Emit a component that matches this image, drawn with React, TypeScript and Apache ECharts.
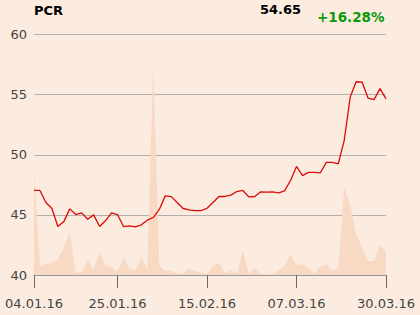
import React, { useEffect, useRef } from "react";
import * as echarts from "echarts";

const dates = [
  "04.01.16", "05.01.16", "07.01.16", "08.01.16", "11.01.16", "12.01.16", "13.01.16", "14.01.16", "15.01.16",
  "18.01.16", "19.01.16", "20.01.16", "21.01.16", "22.01.16", "25.01.16", "26.01.16", "27.01.16", "28.01.16", "29.01.16",
  "01.02.16", "02.02.16", "03.02.16", "04.02.16", "05.02.16", "08.02.16", "09.02.16", "10.02.16", "11.02.16", "12.02.16",
  "15.02.16", "16.02.16", "17.02.16", "18.02.16", "19.02.16", "22.02.16", "23.02.16", "24.02.16", "25.02.16", "26.02.16",
  "29.02.16", "01.03.16", "02.03.16", "03.03.16", "04.03.16", "07.03.16", "08.03.16", "09.03.16", "10.03.16", "11.03.16",
  "14.03.16", "15.03.16", "16.03.16", "17.03.16", "18.03.16", "21.03.16", "22.03.16", "23.03.16", "24.03.16", "29.03.16",
  "30.03.16",
];

const tickLabels = ["04.01.16", "25.01.16", "15.02.16", "07.03.16", "30.03.16"];

const prices = [
  47.03, 47.03, 46.03, 45.53, 44.03, 44.44, 45.5, 45.03, 45.17, 44.64,
  45.0, 44.03, 44.53, 45.17, 45.03, 44.03, 44.08, 44.0, 44.17, 44.56,
  44.78, 45.45, 46.58, 46.52, 46.03, 45.53, 45.42, 45.36, 45.36, 45.55,
  46.03, 46.53, 46.53, 46.64, 46.94, 47.03, 46.5, 46.53, 46.92, 46.9,
  46.92, 46.83, 47.0, 47.86, 49.03, 48.27, 48.53, 48.53, 48.5, 49.36,
  49.36, 49.25, 51.2, 54.8, 56.07, 56.03, 54.7, 54.58, 55.5, 54.65,
];

const volumes = [
  42.4, 4.0, 4.6, 5.1, 6.8, 11.1, 18.0, 1.0, 1.1, 6.2,
  2.1, 9.7, 3.9, 3.4, 1.4, 7.3, 2.8, 1.8, 7.3, 2.8,
  87.8, 4.1, 1.7, 1.7, 0.4, 0.7, 2.8, 1.7, 1.0, 0.3,
  3.9, 5.1, 0.7, 2.1, 0.7, 10.1, 0.4, 2.8, 0.4, 0.3,
  0.4, 2.1, 3.7, 8.7, 4.1, 4.6, 3.2, 0.4, 3.5, 4.3,
  1.7, 2.8, 36.4, 29.0, 17.0, 11.3, 5.8, 5.8, 12.6, 9.5,
];

const title = "PCR";
const lastValue = "54.65";
const change = "+16.28%";

const FONT = "DejaVu Sans";

export default function App() {
  const ref = useRef<HTMLDivElement>(null);

  useEffect(() => {
    if (!ref.current) return;
    const chart = echarts.init(ref.current, undefined, { renderer: "svg" });
    const showIdx = (i: number) => tickLabels.includes(dates[i]);
    chart.setOption({
      animation: false,
      backgroundColor: "#fbecdf",
      textStyle: { fontFamily: FONT },
      grid: { left: 34, right: 34, top: 34.5, bottom: 40, containLabel: false },
      graphic: [
        {
          type: "text",
          x: 34,
          y: 10.5,
          style: { text: title, font: `bold 13px '${FONT}'`, fill: "#000", textVerticalAlign: "middle", textAlign: "left" },
        },
        {
          type: "text",
          x: 301,
          y: 9.5,
          style: { text: lastValue, font: `bold 13px '${FONT}'`, fill: "#000", textVerticalAlign: "middle", textAlign: "right" },
        },
        {
          type: "text",
          x: 384.5,
          y: 16.5,
          style: { text: change, font: `bold 13.5px '${FONT}'`, fill: "#0b9a0b", textVerticalAlign: "middle", textAlign: "right" },
        },
      ],
      xAxis: [
        {
          type: "category",
          data: dates,
          boundaryGap: false,
          axisLine: { show: true, onZero: false, lineStyle: { color: "#999", width: 1 } },
          axisTick: {
            show: true,
            length: 13,
            interval: (i: number) => showIdx(i),
            lineStyle: { color: "#6b6b6b", width: 1 },
          },
          axisLabel: {
            interval: (i: number) => showIdx(i),
            color: "#444",
            fontSize: 13,
            fontFamily: FONT,
            margin: 22,
          },
          splitLine: { show: false },
        },
      ],
      yAxis: [
        {
          type: "value",
          min: 40,
          max: 60,
          interval: 5,
          axisLine: { show: false },
          axisTick: { show: false },
          axisLabel: { color: "#444", fontSize: 13, fontFamily: FONT, margin: 7 },
          splitLine: { show: true, lineStyle: { color: "#b3b0ad", width: 1 } },
        },
        {
          type: "value",
          min: 0,
          max: 100,
          show: false,
          splitLine: { show: false },
        },
      ],
      series: [
        {
          type: "line",
          yAxisIndex: 1,
          data: volumes,
          symbol: "none",
          lineStyle: { width: 0 },
          areaStyle: { color: "#f7d9c4", opacity: 1 },
          z: 1,
        },
        {
          type: "line",
          yAxisIndex: 0,
          data: prices,
          symbol: "none",
          lineStyle: { color: "#dd0a0a", width: 1.3 },
          z: 3,
        },
      ],
    });
    return () => chart.dispose();
  }, []);

  return <div ref={ref} style={{ width: 420, height: 315, position: "absolute", left: 0, top: 0 }} />;
}
